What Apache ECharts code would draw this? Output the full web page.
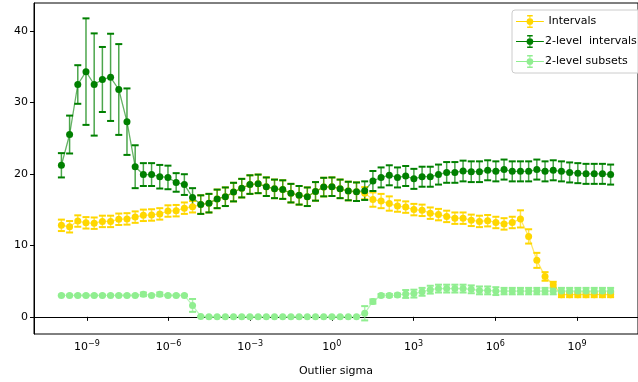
<!DOCTYPE html>
<html>
<head>
<meta charset="utf-8">
<script src="https://cdn.jsdelivr.net/npm/echarts@6/dist/echarts.min.js"></script>
<style>
  html, body { margin: 0; padding: 0; background: #fff; }
  #chart { width: 638px; height: 382px; }
</style>
</head>
<body>
<div id="chart"></div>
<script>
// outlier sigma grid: powers of two, 2^-33 .. 2^34
const sigma = []
for (let k = -33; k <= 34; k++) sigma.push(Math.pow(2, k))

const xTicks = [1e-9, 1e-6, 1e-3, 1, 1e3, 1e6, 1e9]
const yTicks = [0, 10, 20, 30, 40]

const intervals = [
  12.8, 12.6, 13.4, 13.15, 13.1, 13.35, 13.35, 13.65, 13.7, 13.95,
  14.2, 14.25, 14.4, 14.8, 14.85, 15.2, 15.4, 15.7, 15.9, 16.5,
  16.8, 17.45, 18.0, 18.5, 18.6, 18.2, 17.9, 17.8, 17.3, 17.0,
  16.8, 17.55, 18.15, 18.2, 17.9, 17.6, 17.5, 17.3, 16.4, 16.2,
  15.85, 15.5, 15.35, 15.0, 14.9, 14.5, 14.3, 14.05, 13.8, 13.8,
  13.5, 13.35, 13.45, 13.2, 13.0, 13.2, 13.7, 11.25, 7.9, 5.65,
  4.5, 3.1, 3.1, 3.1, 3.1, 3.1, 3.1, 3.1
]
const intervalsErr = [
  0.8, 0.8, 0.8, 0.8, 0.8, 0.8, 0.8, 0.8, 0.8, 0.8,
  0.8, 0.8, 0.8, 0.8, 0.8, 0.8, 0.8, 1.3, 1.3, 1.3,
  1.3, 1.3, 1.3, 1.3, 1.3, 1.3, 1.3, 1.3, 1.3, 1.3,
  1.3, 1.3, 1.3, 1.3, 1.3, 1.3, 1.3, 0.85, 1.0, 1.0,
  1.0, 0.8, 0.8, 0.8, 0.8, 0.8, 0.8, 0.8, 0.8, 0.8,
  0.8, 0.8, 0.8, 0.8, 0.8, 0.8, 1.2, 1.0, 1.05, 0.6,
  0.4, 0.35, 0.35, 0.35, 0.35, 0.35, 0.35, 0.35
]

const twoLevelIntervals = [
  21.2, 25.5, 32.5, 34.3, 32.5, 33.2, 33.5, 31.8, 27.3, 21.0,
  19.9, 19.9, 19.6, 19.5, 18.8, 18.5, 16.7, 15.7, 15.9, 16.5,
  16.8, 17.45, 18.0, 18.5, 18.6, 18.2, 17.9, 17.8, 17.3, 17.0,
  16.8, 17.55, 18.15, 18.2, 17.9, 17.6, 17.5, 17.65, 19.0, 19.5,
  19.8, 19.5, 19.7, 19.3, 19.6, 19.6, 19.9, 20.2, 20.2, 20.4,
  20.3, 20.3, 20.5, 20.35, 20.6, 20.35, 20.35, 20.35, 20.6, 20.35,
  20.5, 20.35, 20.2, 20.1, 20.0, 20.0, 20.0, 19.9
]
const twoLevelIntervalsErr = [
  1.7, 2.65, 2.7, 7.45, 7.15, 4.55, 6.1, 6.35, 4.65, 3.0,
  1.6, 1.6, 1.65, 1.65, 1.3, 1.45, 1.3, 1.3, 1.3, 1.3,
  1.3, 1.3, 1.3, 1.3, 1.3, 1.3, 1.3, 1.3, 1.3, 1.3,
  1.3, 1.3, 1.3, 1.3, 1.3, 1.3, 1.3, 1.3, 1.4, 1.4,
  1.4, 1.4, 1.4, 1.4, 1.4, 1.4, 1.4, 1.45, 1.45, 1.45,
  1.45, 1.45, 1.4, 1.4, 1.4, 1.4, 1.4, 1.4, 1.4, 1.4,
  1.4, 1.4, 1.4, 1.4, 1.4, 1.4, 1.4, 1.4
]

const twoLevelSubsets = [
  3.0, 3.0, 3.0, 3.0, 3.0, 3.0, 3.0, 3.0, 3.0, 3.0,
  3.15, 3.0, 3.15, 3.0, 3.0, 3.0, 1.6, 0.05, 0.0, 0.0,
  0.0, 0.0, 0.0, 0.0, 0.0, 0.0, 0.0, 0.0, 0.0, 0.0,
  0.0, 0.0, 0.0, 0.0, 0.0, 0.0, 0.0, 0.5, 2.15, 3.0,
  3.0, 3.05, 3.2, 3.25, 3.5, 3.8, 3.95, 3.95, 3.95, 3.95,
  3.85, 3.7, 3.7, 3.6, 3.6, 3.6, 3.6, 3.6, 3.6, 3.6,
  3.6, 3.6, 3.6, 3.6, 3.6, 3.6, 3.6, 3.6
]
const twoLevelSubsetsErr = [
  0.1, 0.1, 0.1, 0.1, 0.1, 0.1, 0.1, 0.1, 0.1, 0.1,
  0.25, 0.1, 0.25, 0.1, 0.1, 0.1, 0.9, 0.0, 0.0, 0.0,
  0.0, 0.0, 0.0, 0.0, 0.0, 0.0, 0.0, 0.0, 0.0, 0.0,
  0.0, 0.0, 0.0, 0.0, 0.0, 0.0, 0.0, 1.0, 0.3, 0.2,
  0.2, 0.2, 0.55, 0.55, 0.55, 0.55, 0.55, 0.55, 0.55, 0.55,
  0.55, 0.55, 0.55, 0.55, 0.45, 0.45, 0.45, 0.45, 0.45, 0.45,
  0.45, 0.45, 0.45, 0.45, 0.45, 0.45, 0.45, 0.45
]

const chart = echarts.init(document.getElementById('chart'))

// legend icon: line + error bar with caps + dot
const ebIcon = 'path://M0 6.5h30v1h-30z M14.5 1h1v12h-1z M12 0h6v1.6h-6z M12 12.4h6v1.6h-6z M18.6 7a3.6 3.6 0 1 1 -7.2 0a3.6 3.6 0 1 1 7.2 0z'

function errorBars(name, vals, errs, color) {
  return {
    type: 'custom',
    name: name,
    silent: true,
    data: sigma.map((s, i) => [s, vals[i], errs[i]]),
    encode: { x: 0, y: 1 },
    renderItem: function (params, api) {
      const x = api.value(0)
      const y = api.value(1)
      const e = api.value(2)
      const top = api.coord([x, y + e])
      const bot = api.coord([x, y - e])
      const hw = 3.5
      return {
        type: 'group',
        children: [
          { type: 'line', shape: { x1: top[0], y1: top[1], x2: bot[0], y2: bot[1] },
            style: { stroke: color, lineWidth: 1.5, opacity: 0.7 } },
          { type: 'line', shape: { x1: top[0] - hw, y1: top[1], x2: top[0] + hw, y2: top[1] },
            style: { stroke: color, lineWidth: 2 } },
          { type: 'line', shape: { x1: bot[0] - hw, y1: bot[1], x2: bot[0] + hw, y2: bot[1] },
            style: { stroke: color, lineWidth: 2 } }
        ]
      }
    }
  }
}

function dataLine(name, vals, color) {
  return {
    type: 'line',
    name: name,
    data: sigma.map((s, i) => [s, vals[i]]),
    symbol: 'circle',
    symbolSize: 7,
    showSymbol: true,
    itemStyle: { color: color },
    lineStyle: { color: color, width: 1.3, opacity: 0.6 },
    emphasis: { disabled: true },
    animation: false
  }
}

const option = {
  backgroundColor: '#fff',
  animation: false,
  textStyle: { fontFamily: 'DejaVu Sans' },
  grid: {
    show: true,
    left: 34,
    top: 3,
    width: 614,
    height: 331,
    borderColor: '#000',
    borderWidth: 1
  },
  legend: {
    orient: 'vertical',
    left: 512,
    top: 10,
    padding: [5, 8, 5, 4],
    itemWidth: 28,
    itemHeight: 13,
    itemGap: 7,
    borderColor: '#ccc',
    borderWidth: 1,
    borderRadius: 3,
    backgroundColor: 'rgba(255,255,255,0.8)',
    selectedMode: false,
    textStyle: { fontSize: 11, color: '#000', fontFamily: 'DejaVu Sans', padding: [0, 0, 0, -4] },
    data: [
      { name: ' Intervals', icon: ebIcon, itemStyle: { color: '#FFD700' } },
      { name: '2-level  intervals', icon: ebIcon, itemStyle: { color: '#008000' } },
      { name: '2-level subsets', icon: ebIcon, itemStyle: { color: '#90EE90' } }
    ]
  },
  xAxis: {
    type: 'log',
    logBase: 10,
    min: 1.148e-11,
    max: 1.74e11,
    name: 'Outlier sigma',
    nameLocation: 'middle',
    nameGap: 32,
    nameTextStyle: { fontSize: 11, color: '#000' },
    axisLine: { show: true, lineStyle: { color: '#000' } },
    axisTick: { show: true, length: 4, customValues: xTicks, lineStyle: { color: '#000' } },
    axisLabel: {
      customValues: xTicks,
      margin: 6,
      color: '#000',
      fontSize: 11,
      formatter: function (v) {
        const p = Math.round(Math.log10(v))
        return '10{sup|' + String(p).replace('-', '\u2212') + '}'
      },
      rich: { sup: { fontSize: 8, verticalAlign: 'bottom', padding: [0, 0, 7, 0], color: '#000' } }
    },
    splitLine: { show: false }
  },
  yAxis: {
    type: 'value',
    min: -2.4,
    max: 43.9,
    axisLine: { show: true, lineStyle: { color: '#000' } },
    axisTick: { show: true, length: 4, customValues: yTicks, lineStyle: { color: '#000' } },
    axisLabel: { customValues: yTicks, margin: 6, color: '#000', fontSize: 11 },
    splitLine: { show: false }
  },
  series: [
    errorBars(' Intervals', intervals, intervalsErr, '#FFD700'),
    dataLine(' Intervals', intervals, '#FFD700'),
    errorBars('2-level  intervals', twoLevelIntervals, twoLevelIntervalsErr, '#008000'),
    dataLine('2-level  intervals', twoLevelIntervals, '#008000'),
    errorBars('2-level subsets', twoLevelSubsets, twoLevelSubsetsErr, '#90EE90'),
    dataLine('2-level subsets', twoLevelSubsets, '#90EE90')
  ]
}

chart.setOption(option)
</script>
</body>
</html>
